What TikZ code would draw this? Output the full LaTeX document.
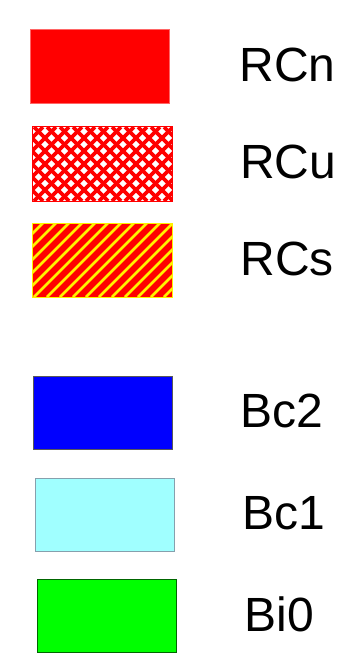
\documentclass[tikz,border=0pt]{standalone}
\usepackage{fontspec}
\setmainfont{Liberation Sans}
\usetikzlibrary{positioning}

\definecolor{lightcyan}{HTML}{A0FFFF}

\begin{document}
\begin{tikzpicture}[
  x=1pt, y=-1pt,
  swatch/.style={draw, line width=0.8pt, minimum width=139pt, minimum height=73.5pt, inner sep=0pt},
  plain/.style={swatch, fill=#1},
  hatchline/.style={line width=#1},
  lbl/.style={font=\fontsize{48}{48}\selectfont, inner sep=0pt, yshift=2pt}
]
\useasboundingbox (0,0) rectangle (364,657);
% ---------- red group ----------
\node[plain=red, draw=red!60] (rcn) at (99.5,66.5) {};
\node[lbl, right=70pt of rcn] (rcnlab) {RCn};
\node[swatch, fill=white, draw=none] (rcu) at (102,164) {};
\begin{scope}
  \clip (rcu.north west) rectangle (rcu.south east);
  \foreach \s in {-70,-57,...,180}{
    \draw[hatchline=3.6pt, red] (\s,201) -- ++(74,-74);
    \draw[hatchline=3.6pt, red] (\s,127) -- ++(74,74);
  }
\end{scope}
\draw[red, line width=0.8pt] (rcu.north west) rectangle (rcu.south east);
\node[lbl, right=68pt of rcu] (rculab) {RCu};
\node[swatch, fill=red, draw=none] (rcs) at (102.5,260.5) {};
\begin{scope}
  \clip (rcs.north west) rectangle (rcs.south east);
  \foreach \s in {-70,-57,...,180}
    \draw[hatchline=2.6pt, yellow] (\s,297) -- ++(74,-74);
\end{scope}
\draw[yellow, line width=0.8pt] (rcs.north west) rectangle (rcs.south east);
\node[lbl, right=68pt of rcs] (rcslab) {RCs};
% ---------- blue / green group ----------
\node[plain=blue, draw=black!65] (bctwo) at (102.5,413) {};
\node[lbl, right=68pt of bctwo] (bctwolab) {Bc2};
\node[plain=lightcyan, draw=black!60!cyan!60] (bcone) at (104.5,515) {};
\node[lbl, right=68pt of bcone] (bconelab) {Bc1};
\node[plain=green, draw=green!40!black] (bizero) at (106.5,616) {};
\node[lbl, right=68pt of bizero] (bizerolab) {Bi0};
\end{tikzpicture}
\end{document}
